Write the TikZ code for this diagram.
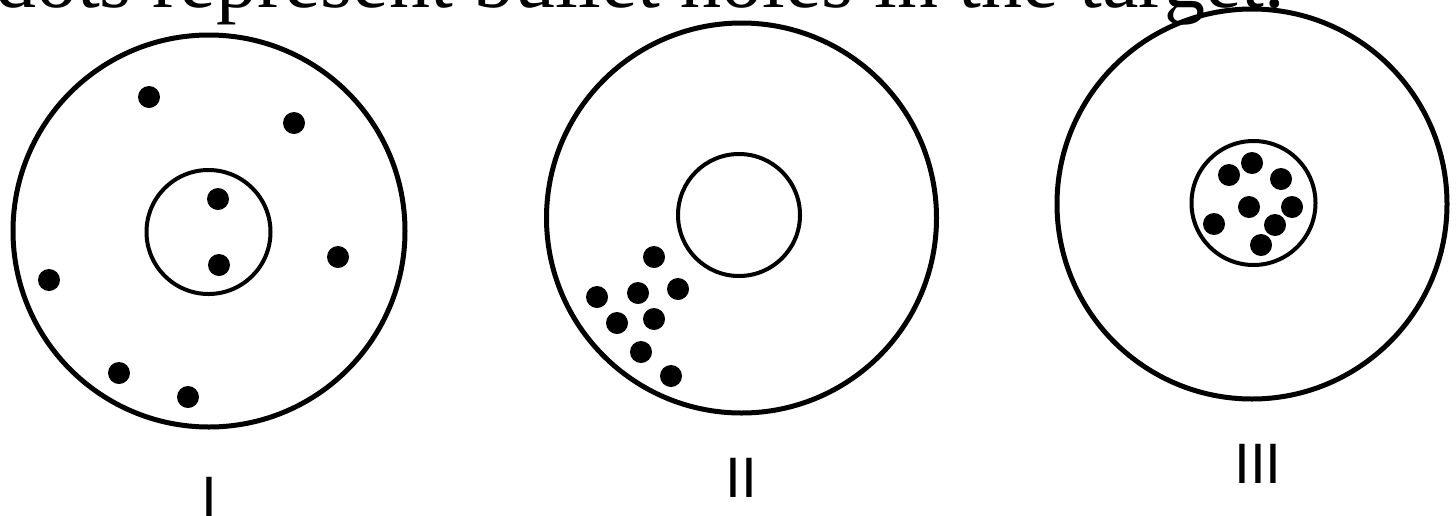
\documentclass[tikz,border=0pt]{standalone}
\usepackage{fontspec}
\setmainfont{Liberation Serif}
\newfontfamily\lblfont{Liberation Sans}
\tikzset{
  % target rings
  ringOut/.style={draw=black,line width=5pt},
  ringIn/.style={draw=black,line width=4pt},
  % bullet hole
  hole/.style={fill=black},
  % caption and labels
  CAP/.style={inner sep=0pt,anchor=base west,font=\fontsize{82}{90}\selectfont},
  LB/.style={inner sep=0pt,anchor=base,font=\lblfont\fontsize{57}{60}\selectfont}
}
\begin{document}
\begin{tikzpicture}[x=1pt,y=-1pt]
  \useasboundingbox (0,0) rectangle (1456,515);
  \clip (0,0) rectangle (1456,515);
  \node[CAP] (caption) at (-5,7) {dots represent bullet holes in the target.};
  % target I
  \coordinate (cI) at (209,231);
  \coordinate (iI) at (208.5,232);
  \draw[ringOut] (cI) circle[radius=196pt];
  \draw[ringIn] (iI) circle[radius=62pt];
  \foreach \p in {(149,97),(294,123),(218,199),(219,265),(338,257),(49,280),(119,373),(188,397)}
    \fill[hole] \p circle[radius=11pt];
  \node[LB] (labI) at (209,516) {I};
  % target II
  \coordinate (cII) at (741.5,218);
  \coordinate (iII) at (739,215);
  \draw[ringOut] (cII) circle[radius=195pt];
  \draw[ringIn] (iII) circle[radius=61pt];
  \foreach \p in {(654,257),(597,297),(638,293),(678,289),(617,323),(654,319),(641,352),(671,376)}
    \fill[hole] \p circle[radius=11pt];
  \node[LB] (labII) at (741,497) {II};
  % target III
  \coordinate (cIII) at (1252,204);
  \coordinate (iIII) at (1253.5,203);
  \draw[ringOut] (cIII) circle[radius=195pt];
  \draw[ringIn] (iIII) circle[radius=62pt];
  \foreach \p in {(1252,163),(1229,175),(1281,179),(1249,207),(1292,207),(1214,224),(1275,225),(1261,245)}
    \fill[hole] \p circle[radius=11pt];
  \node[LB] (labIII) at (1258,483) {III};
\end{tikzpicture}
\end{document}
